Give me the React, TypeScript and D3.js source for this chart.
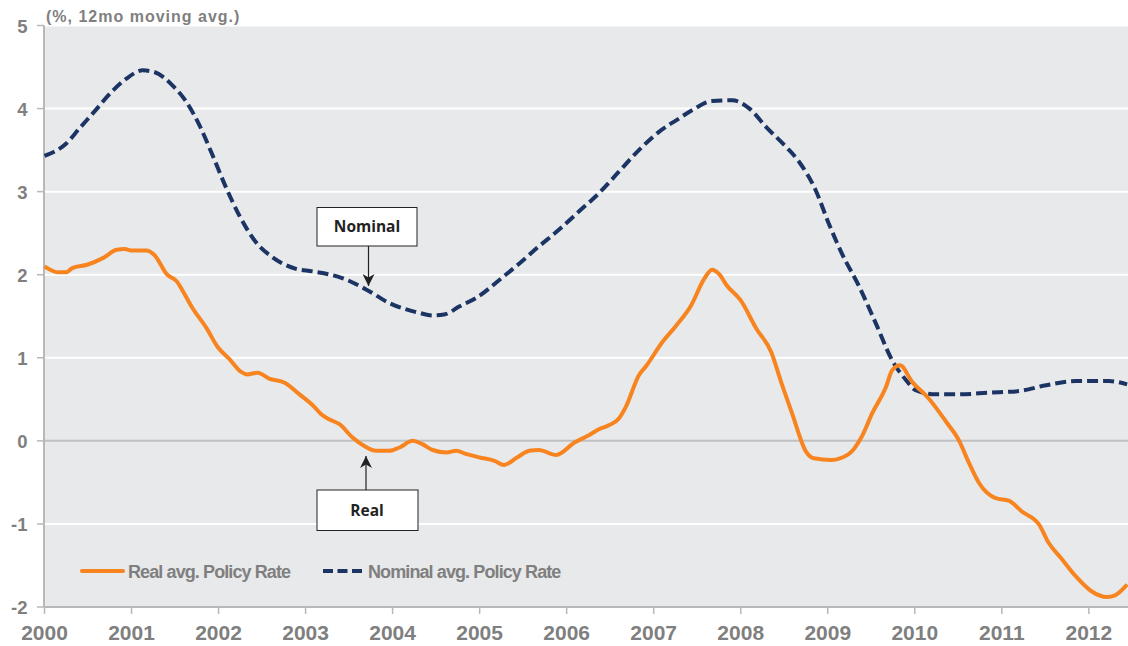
import React from "react";
import * as d3 from "d3";

const realYears = [2000.0, 2000.15, 2000.25, 2000.32, 2000.49, 2000.67, 2000.83, 2000.92, 2001.01, 2001.17, 2001.26, 2001.41, 2001.52, 2001.58, 2001.7, 2001.86, 2001.99, 2002.12, 2002.26, 2002.33, 2002.45, 2002.58, 2002.76, 2002.93, 2003.1, 2003.18, 2003.27, 2003.39, 2003.54, 2003.67, 2003.81, 2003.96, 2004.08, 2004.23, 2004.34, 2004.46, 2004.62, 2004.73, 2004.85, 2005.0, 2005.17, 2005.28, 2005.43, 2005.57, 2005.68, 2005.88, 2006.09, 2006.26, 2006.37, 2006.49, 2006.6, 2006.68, 2006.83, 2006.92, 2007.1, 2007.26, 2007.43, 2007.58, 2007.67, 2007.75, 2007.84, 2008.0, 2008.18, 2008.35, 2008.47, 2008.59, 2008.75, 2008.84, 2009.04, 2009.24, 2009.39, 2009.51, 2009.67, 2009.74, 2009.83, 2009.97, 2010.16, 2010.36, 2010.51, 2010.62, 2010.74, 2010.93, 2011.08, 2011.23, 2011.43, 2011.54, 2011.68, 2011.85, 2012.03, 2012.21, 2012.3, 2012.44];
const realValues = [2.1, 2.03, 2.03, 2.08, 2.12, 2.2, 2.3, 2.31, 2.29, 2.29, 2.24, 2.0, 1.92, 1.82, 1.6, 1.36, 1.13, 0.99, 0.83, 0.8, 0.82, 0.75, 0.7, 0.56, 0.41, 0.32, 0.26, 0.2, 0.04, -0.06, -0.12, -0.12, -0.08, 0.0, -0.04, -0.11, -0.14, -0.12, -0.16, -0.2, -0.24, -0.29, -0.2, -0.12, -0.11, -0.17, -0.02, 0.07, 0.14, 0.19, 0.27, 0.41, 0.79, 0.91, 1.19, 1.39, 1.63, 1.95, 2.06, 2.01, 1.87, 1.69, 1.35, 1.07, 0.69, 0.33, -0.13, -0.21, -0.23, -0.16, 0.05, 0.33, 0.65, 0.85, 0.91, 0.71, 0.51, 0.23, 0.0, -0.26, -0.51, -0.69, -0.72, -0.85, -1.01, -1.23, -1.41, -1.63, -1.81, -1.88, -1.86, -1.73];

const nominalYears = [2000.0, 2000.25, 2000.4, 2000.57, 2000.77, 2000.94, 2001.13, 2001.26, 2001.47, 2001.63, 2001.78, 2001.93, 2002.09, 2002.24, 2002.43, 2002.62, 2002.89, 2003.08, 2003.42, 2003.7, 2003.96, 2004.31, 2004.46, 2004.59, 2004.77, 2004.96, 2005.23, 2005.45, 2005.68, 2005.91, 2006.14, 2006.37, 2006.6, 2006.83, 2007.06, 2007.29, 2007.44, 2007.67, 2007.9, 2008.1, 2008.29, 2008.52, 2008.67, 2008.86, 2009.01, 2009.16, 2009.36, 2009.55, 2009.74, 2009.9, 2010.01, 2010.24, 2010.51, 2010.85, 2011.2, 2011.51, 2011.85, 2012.23, 2012.44];
const nominalValues = [3.43, 3.58, 3.76, 3.96, 4.2, 4.36, 4.46, 4.44, 4.28, 4.08, 3.8, 3.44, 3.04, 2.71, 2.39, 2.21, 2.07, 2.04, 1.96, 1.82, 1.66, 1.54, 1.51, 1.52, 1.62, 1.72, 1.94, 2.13, 2.34, 2.54, 2.76, 2.98, 3.24, 3.5, 3.72, 3.88, 3.98, 4.09, 4.1, 4.0, 3.78, 3.54, 3.36, 3.02, 2.62, 2.26, 1.86, 1.42, 0.97, 0.73, 0.61, 0.56, 0.56, 0.58, 0.6, 0.67, 0.72, 0.72, 0.68];

const yTicks = [-2, -1, 0, 1, 2, 3, 4, 5];
const xTicks = [2000, 2001, 2002, 2003, 2004, 2005, 2006, 2007, 2008, 2009, 2010, 2011, 2012];

const titleText = "(%, 12mo moving avg.)";
const realLabel = "Real avg. Policy Rate";
const nominalLabel = "Nominal avg. Policy Rate";

const ORANGE = "#f7841f";
const NAVY = "#1b3464";
const GRAY = "#7f7f7f";
const AXIS = "#b8b8b8";

export default function App() {
  const W = 1128, H = 646;
  const left = 44, right = 1128, top = 25.5, bottom = 607;
  const x = d3.scaleLinear().domain([2000, 2012.45]).range([left + 0.5, right]);
  const y = d3.scaleLinear().domain([-2, 5]).range([bottom, top]);

  const realData = realYears.map((t, i) => [t, realValues[i]] as [number, number]);
  const nomData = nominalYears.map((t, i) => [t, nominalValues[i]] as [number, number]);

  const realLine = d3.line<[number, number]>().x(d => x(d[0])).y(d => y(d[1])).curve(d3.curveMonotoneX);
  const nomLine = d3.line<[number, number]>().x(d => x(d[0])).y(d => y(d[1])).curve(d3.curveMonotoneX);

  const font = "'Liberation Sans', Arial, sans-serif";
  const annFont = "'Open Sans', 'Noto Sans', sans-serif";

  return (
    <div style={{ position: "absolute", left: 0, top: 0 }}>
      <svg width={W} height={H} style={{ display: "block", background: "#fff" }}>
        <rect x={left} y={top} width={right - left} height={bottom - top} fill="#e8e9eb" />
        {yTicks.filter(v => v !== 0 && v !== -2).map(v => (
          <line key={"g" + v} x1={left} x2={right} y1={y(v)} y2={y(v)} stroke="#ffffff" strokeWidth={2} />
        ))}
        <line x1={left} x2={right} y1={y(0)} y2={y(0)} stroke="#c0c0c0" strokeWidth={2} />

        {/* axes */}
        <line x1={left} x2={left} y1={top} y2={bottom} stroke={AXIS} strokeWidth={2} />
        <line x1={left} x2={right} y1={bottom} y2={bottom} stroke={AXIS} strokeWidth={2} />
        {yTicks.map(v => (
          <line key={"yt" + v} x1={left - 7} x2={left} y1={y(v)} y2={y(v)} stroke={AXIS} strokeWidth={1.5} />
        ))}
        {xTicks.map(t => (
          <line key={"xt" + t} x1={x(t)} x2={x(t)} y1={bottom} y2={bottom + 7} stroke={AXIS} strokeWidth={1.5} />
        ))}
        {yTicks.map(v => (
          <text key={"yl" + v} x={27.5} y={y(v) + 7} textAnchor="end" fontFamily={font} fontWeight="bold" fontSize={18.5} fill={GRAY}>{v}</text>
        ))}
        {xTicks.map(t => (
          <text key={"xl" + t} x={x(t)} y={640} textAnchor="middle" fontFamily={font} fontWeight="bold" fontSize={21} fill={GRAY}>{t}</text>
        ))}
        <text x={46} y={22} fontFamily={font} fontWeight="bold" fontSize={16} letterSpacing={1} fill={GRAY}>{titleText}</text>

        {/* series */}
        <path d={nomLine(nomData) || ""} fill="none" stroke={NAVY} strokeWidth={4} strokeDasharray="11,5" />
        <path d={realLine(realData) || ""} fill="none" stroke={ORANGE} strokeWidth={4} strokeLinejoin="round" />

        {/* legend */}
        <line x1={82} x2={123} y1={571} y2={571} stroke={ORANGE} strokeWidth={4} strokeLinecap="round" />
        <text x={128} y={578} fontFamily={font} fontWeight="bold" fontSize={18} letterSpacing={-0.9} fill={GRAY}>{realLabel}</text>
        <line x1={323} x2={362} y1={571} y2={571} stroke={NAVY} strokeWidth={4} strokeDasharray="10,4.5" />
        <text x={368} y={578} fontFamily={font} fontWeight="bold" fontSize={18} letterSpacing={-0.9} fill={GRAY}>{nominalLabel}</text>

        {/* annotations */}
        <defs>
          <marker id="arr" viewBox="0 0 10 10" refX={10} refY={5} markerWidth={12} markerHeight={12} markerUnits="userSpaceOnUse" orient="auto">
            <path d="M0,0 L10,5 L0,10 L3,5 z" fill="#222" />
          </marker>
        </defs>
        <rect x={317} y={207.5} width={100} height={38.5} fill="#fff" stroke="#222" strokeWidth={1} />
        <text x={367} y={232} textAnchor="middle" fontFamily={annFont} fontWeight="bold" fontSize={15.5} fill="#222">Nominal</text>
        <line x1={368.5} x2={368.5} y1={246} y2={286} stroke="#222" strokeWidth={1.2} markerEnd="url(#arr)" />

        <rect x={317} y={490} width={101} height={40.5} fill="#fff" stroke="#222" strokeWidth={1} />
        <text x={367} y={516} textAnchor="middle" fontFamily={annFont} fontWeight="bold" fontSize={15.5} fill="#222">Real</text>
        <line x1={366} x2={366} y1={490} y2={456} stroke="#222" strokeWidth={1.2} markerEnd="url(#arr)" />
      </svg>
    </div>
  );
}
